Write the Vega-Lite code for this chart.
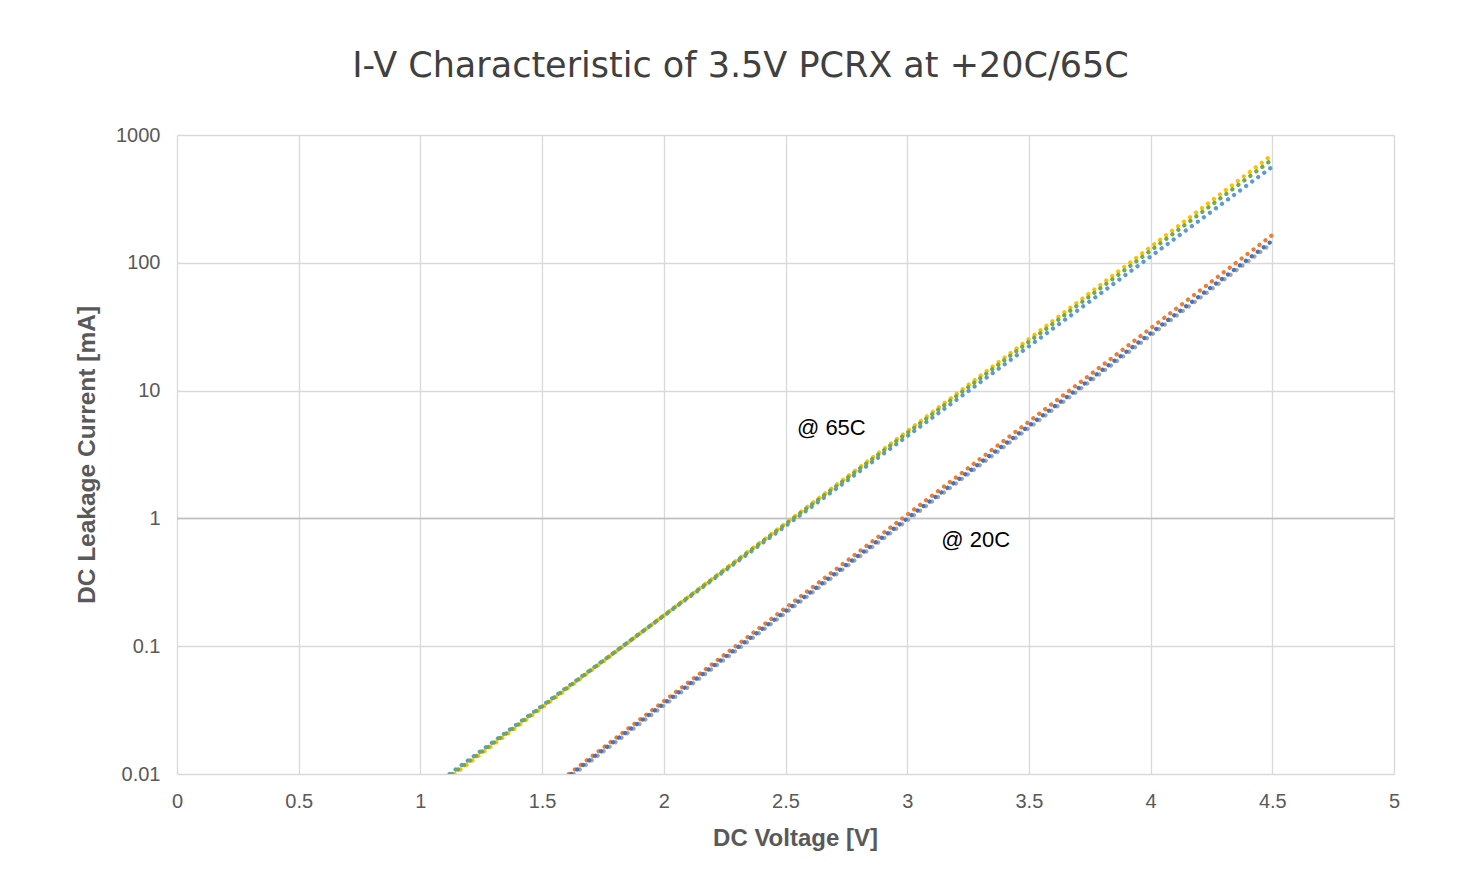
{
  "$schema": "https://vega.github.io/schema/vega-lite/v6.json",
  "width": 1217,
  "height": 639,
  "autosize": {"type": "none"},
  "padding": {"left": 177, "top": 135, "right": 74, "bottom": 116},
  "background": "white",
  "config": {
    "view": {"stroke": null},
    "font": "Liberation Sans",
    "axisX": {
      "domain": false, "ticks": false, "labelFlush": false,
      "grid": true, "gridColor": "#d9d9d9", "gridWidth": 1.3,
      "labelFontSize": 20, "labelColor": "#595959", "labelPadding": 17,
      "titleFontSize": 24, "titleFontWeight": "bold", "titleColor": "#595959", "titlePadding": 15, "titleX": 618
    },
    "axisY": {
      "domain": false, "ticks": false,
      "grid": true, "gridColor": "#d9d9d9", "gridWidth": 1.3,
      "labelFontSize": 20, "labelColor": "#595959", "labelPadding": 17,
      "titleFontSize": 24.5, "titleFontWeight": "bold", "titleColor": "#595959", "titlePadding": 16
    }
  },
  "title": {
    "text": "I-V Characteristic of 3.5V PCRX at +20C/65C",
    "font": "DejaVu Sans",
    "fontSize": 35,
    "fontWeight": "normal",
    "color": "#404040",
    "offset": 41,
    "dx": -45,
    "anchor": "middle"
  },
  "datasets": {
    "curves": [
      {"series": "65C-1", "v": 1.12, "i": 0.01},
      {"series": "65C-1", "v": 1.5, "i": 0.0342},
      {"series": "65C-1", "v": 2.0, "i": 0.173},
      {"series": "65C-1", "v": 2.5, "i": 0.871},
      {"series": "65C-1", "v": 3.0, "i": 4.40},
      {"series": "65C-1", "v": 3.5, "i": 22.2},
      {"series": "65C-1", "v": 4.0, "i": 112},
      {"series": "65C-1", "v": 4.5, "i": 565},
      {"series": "20C-2", "v": 1.61, "i": 0.01},
      {"series": "20C-2", "v": 2.0, "i": 0.0371},
      {"series": "20C-2", "v": 2.5, "i": 0.199},
      {"series": "20C-2", "v": 3.0, "i": 1.07},
      {"series": "20C-2", "v": 3.5, "i": 5.72},
      {"series": "20C-2", "v": 4.0, "i": 30.7},
      {"series": "20C-2", "v": 4.5, "i": 165},
      {"series": "20C-3", "v": 1.63, "i": 0.01},
      {"series": "20C-3", "v": 2.0, "i": 0.0343},
      {"series": "20C-3", "v": 2.5, "i": 0.182},
      {"series": "20C-3", "v": 3.0, "i": 0.964},
      {"series": "20C-3", "v": 3.5, "i": 5.10},
      {"series": "20C-3", "v": 4.0, "i": 27.0},
      {"series": "20C-3", "v": 4.5, "i": 143},
      {"series": "65C-4", "v": 1.14, "i": 0.01},
      {"series": "65C-4", "v": 1.5, "i": 0.0330},
      {"series": "65C-4", "v": 2.0, "i": 0.174},
      {"series": "65C-4", "v": 2.5, "i": 0.914},
      {"series": "65C-4", "v": 3.0, "i": 4.81},
      {"series": "65C-4", "v": 3.5, "i": 25.3},
      {"series": "65C-4", "v": 4.0, "i": 133},
      {"series": "65C-4", "v": 4.5, "i": 700},
      {"series": "20C-5", "v": 1.62, "i": 0.01},
      {"series": "20C-5", "v": 2.0, "i": 0.0356},
      {"series": "20C-5", "v": 2.5, "i": 0.188},
      {"series": "20C-5", "v": 3.0, "i": 1.00},
      {"series": "20C-5", "v": 3.5, "i": 5.30},
      {"series": "20C-5", "v": 4.0, "i": 28.1},
      {"series": "20C-5", "v": 4.5, "i": 149},
      {"series": "65C-6", "v": 1.13, "i": 0.01},
      {"series": "65C-6", "v": 1.5, "i": 0.0337},
      {"series": "65C-6", "v": 2.0, "i": 0.174},
      {"series": "65C-6", "v": 2.5, "i": 0.902},
      {"series": "65C-6", "v": 3.0, "i": 4.66},
      {"series": "65C-6", "v": 3.5, "i": 24.1},
      {"series": "65C-6", "v": 4.0, "i": 124.5},
      {"series": "65C-6", "v": 4.5, "i": 644}
    ],
    "labels": [
      {"text": "@ 65C", "v": 2.547, "i": 5.1},
      {"text": "@ 20C", "v": 3.14, "i": 0.68}
    ],
    "axisline": [{"v": 0, "i": 1}]
  },
  "encoding": {
    "x": {
      "field": "v", "type": "quantitative",
      "scale": {"domain": [0, 5], "nice": false, "zero": false},
      "axis": {"title": "DC Voltage [V]", "values": [0, 0.5, 1, 1.5, 2, 2.5, 3, 3.5, 4, 4.5, 5], "format": "~g"}
    },
    "y": {
      "field": "i", "type": "quantitative",
      "scale": {"type": "log", "domain": [0.01, 1000]},
      "axis": {"title": "DC Leakage Current [mA]", "values": [0.01, 0.1, 1, 10, 100, 1000], "format": "~g"}
    }
  },
  "layer": [
    {
      "data": {"name": "axisline"},
      "mark": {"type": "rule", "color": "#bfbfbf", "strokeWidth": 1.5},
      "encoding": {"x": null}
    },
    {
      "data": {"name": "curves"},
      "mark": {"type": "line", "strokeWidth": 4.2, "strokeCap": "round", "strokeDash": [0.1, 7.4], "clip": true},
      "encoding": {
        "color": {
          "field": "series", "type": "nominal",
          "scale": {
            "domain": ["65C-1", "20C-2", "20C-3", "65C-4", "20C-5", "65C-6"],
            "range": ["#5B9BD5", "#ED7D31", "#A5A5A5", "#FFC000", "#4472C4", "#70AD47"]
          },
          "legend": null
        },
        "order": {"field": "v", "type": "quantitative"}
      }
    },
    {
      "data": {"name": "labels"},
      "mark": {"type": "text", "align": "left", "baseline": "middle", "fontSize": 22, "color": "#000000", "font": "Liberation Sans"},
      "encoding": {
        "text": {"field": "text"}
      }
    }
  ]
}
